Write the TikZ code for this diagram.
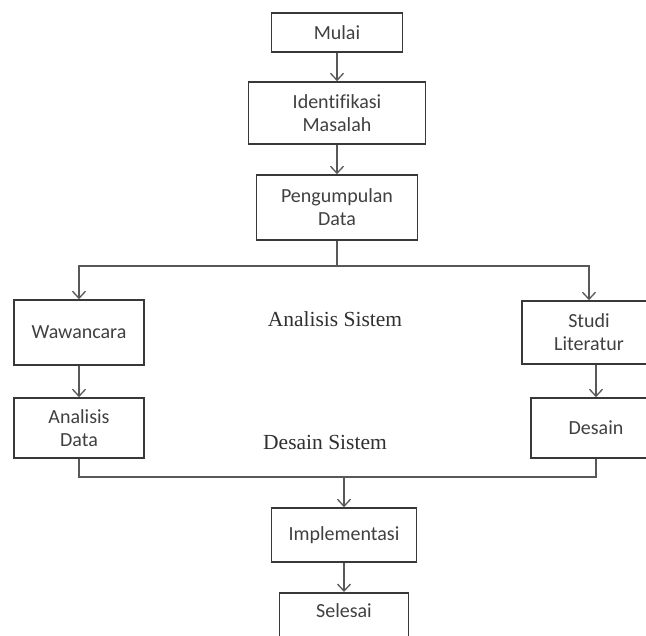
\documentclass[tikz,border=0pt]{standalone}
\usepackage{fontspec}
\setmainfont{Liberation Serif}
\newfontfamily\boxfont[Ligatures=CommonOff]{Carlito}
\usepackage{tikz}
\usetikzlibrary{arrows.meta}
\usetikzlibrary{positioning}
\definecolor{boxline}{HTML}{383838}
\definecolor{connline}{HTML}{585858}
\definecolor{boxtext}{HTML}{404040}
\definecolor{lbltext}{HTML}{303030}
\tikzset{
    procbox/.style={
        draw=boxline,
        line width=1.6pt,
        fill=white,
        align=center,
        font=\boxfont\fontsize{20}{23}\selectfont,
        text=boxtext,
    },
    conn/.style={
        draw=connline,
        line width=1.3pt,
    },
    connarrow/.style={
        conn,
        -{Straight Barb[length=7pt,width=13pt,line width=1.3pt]},
    },
    phaselabel/.style={
        font=\fontsize{21.5}{25}\selectfont,
        text=lbltext,
    }
}

\begin{document}
\begin{tikzpicture}[x=1pt, y=-1pt]
        \useasboundingbox (0,0) rectangle (646,636);
        \clip (0,0) rectangle (646,636);
        \fill[white] (0,0) rectangle (646,636);

        % main column
        \node[procbox, minimum width=131, minimum height=39] (mulai) at (337, 32.5) {Mulai};
        \node[procbox, minimum width=177, minimum height=62] (ident) at (337, 113) {Identifikasi\\Masalah};
        \node[procbox, minimum width=161, minimum height=65] (kumpul) at (337, 207.5) {Pengumpulan\\Data};

        % left branch
        \node[procbox, minimum width=130, minimum height=65] (wawancara) at (79, 332.5) {Wawancara};
        \node[procbox, minimum width=130, minimum height=60] (anadata) at (79, 428) {Analisis\\Data};

        % right branch
        \node[procbox, minimum width=134, minimum height=63] (studi) at (589, 332.5) {Studi\\Literatur};
        \node[procbox, minimum width=130, minimum height=60] (desain) at (596, 428) {Desain};

        % phase labels
        \node[phaselabel] (lblanalisis) at (335, 319) {Analisis Sistem};
        \node[phaselabel] (lbldesain) at (325, 442) {Desain Sistem};

        % end
        \node[procbox, minimum width=145, minimum height=54] (impl) at (344, 535) {Implementasi};
        \node[procbox, anchor=north, minimum width=129, inner ysep=11pt,
              text height=14pt, text depth=40pt] (selesai) at (344, 592) {Selesai};

        \coordinate (split) at (337, 266);
        \coordinate (merge) at (344, 477);

        \draw[connarrow] (mulai) -- (ident);
        \draw[connarrow] (ident) -- (kumpul);
        \draw[conn] (kumpul) -- (split);
        \draw[connarrow] (split) -| (wawancara);
        \draw[connarrow] (split) -| (studi);
        \draw[connarrow] (wawancara) -- (anadata);
        \draw[connarrow] (studi.south -| desain) -- (desain);
        \draw[conn] (anadata) |- (merge);
        \draw[conn] (desain) |- (merge);
        \draw[connarrow] (merge) -- (impl);
        \draw[connarrow] (impl) -- (selesai);
        \end{tikzpicture}
\end{document}
